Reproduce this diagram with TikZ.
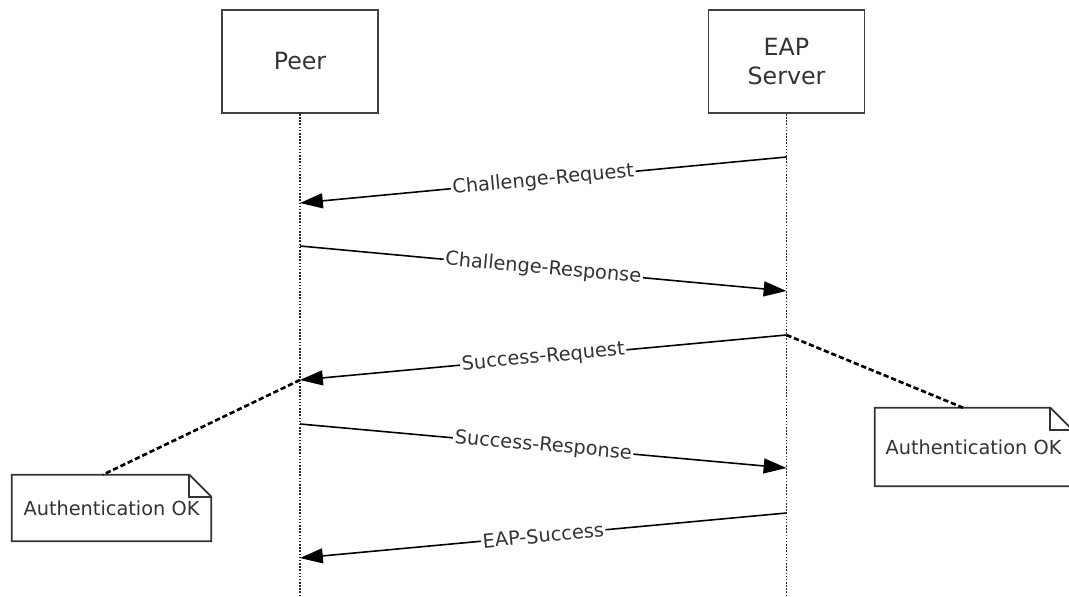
\documentclass[tikz,border=0pt]{standalone}
\usepackage{fontspec}
\setmainfont{DejaVu Sans}
\usetikzlibrary{arrows.meta,calc}
\newcommand\foldnote[1]{%
 \draw[noteline] (#1.south west)--(#1.north west)--($(#1.north east)+(-22,0)$)--($(#1.north east)+(0,22)$)--(#1.south east)--cycle;
 \draw[noteline] ($(#1.north east)+(-22,0)$)--($(#1.north east)+(-22,22)$)--($(#1.north east)+(0,22)$);}

\begin{document}
\begin{tikzpicture}[x=.02cm,y=-.02cm,font=\fontsize{11}{13}\selectfont,
 actor/.style={draw=black!75,line width=1.1pt,minimum width=3.12cm,minimum height=2.06cm,align=center,font=\fontsize{13.5}{16}\selectfont,text=black!80},
 life/.style={dash pattern=on .9pt off .9pt,line width=.8pt,black!85},
 msg/.style={line width=.9pt,-{Triangle[length=13pt,width=8.5pt]}},
 lbl/.style={sloped,fill=white,inner sep=1pt,text=black!80},
 notebox/.style={inner sep=0pt,text=black!80},
 noteline/.style={line width=1pt,black!80},
 link/.style={line width=1.5pt,dash pattern=on 3pt off 1.6pt}]
 \useasboundingbox (0,0) rectangle (1069,597);
 \clip (0,0) rectangle (1069,597);
 \node[actor] (peer) at (300,61.5) {Peer};
 \node[actor] (eap) at (786.5,61.5) {EAP\\Server};
 \draw[life] (peer.south) -- (peer |- 0,597);
 \draw[life] (eap.south) -- (eap |- 0,597);
 \draw[msg] (eap |- 0,157) -- node[lbl] {Challenge-Request} (peer |- 0,203);
 \draw[msg] (peer |- 0,246) -- node[lbl] {Challenge-Response} (eap |- 0,291);
 \draw[msg] (eap |- 0,335) -- node[lbl] {Success-Request} (peer |- 0,380);
 \draw[msg] (peer |- 0,424) -- node[lbl] {Success-Response} (eap |- 0,468);
 \draw[msg] (eap |- 0,513) -- node[lbl] {EAP-Success} (peer |- 0,558);
 \node[notebox,minimum width=3.98cm,minimum height=1.32cm] (noteL) at (111.5,508) {Authentication OK};
 \node[notebox,minimum width=3.94cm,minimum height=1.56cm] (noteR) at (973.5,447) {Authentication OK};
 \foldnote{noteL}
 \foldnote{noteR}
 \draw[link] (peer |- 0,380) -- (noteL.north -| 103,0);
 \draw[link] (eap |- 0,335) -- (noteR.north -| 963,0);
\end{tikzpicture}
\end{document}
